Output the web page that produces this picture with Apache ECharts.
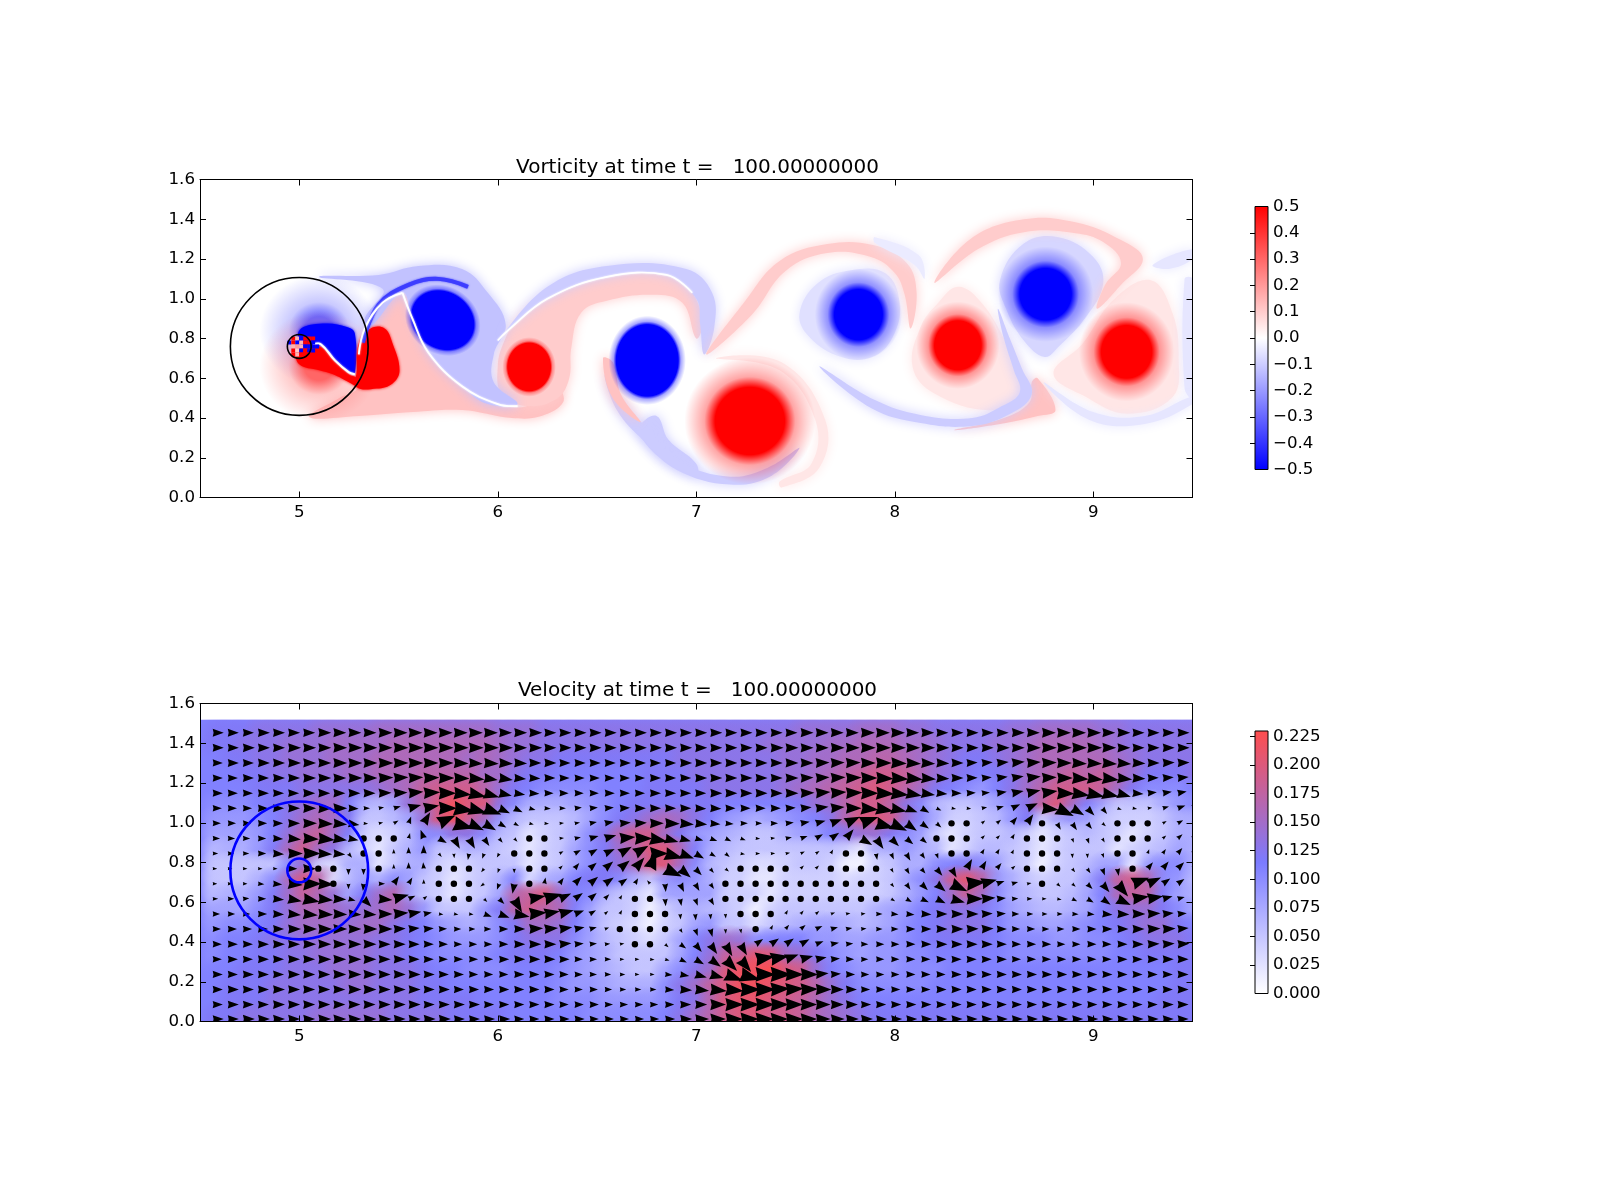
<!DOCTYPE html>
<html>
<head>
<meta charset="utf-8">
<script src="https://cdn.jsdelivr.net/npm/echarts@6/dist/echarts.min.js"></script>
<style>html,body{margin:0;background:#fff}#main{width:1600px;height:1200px}</style>
</head>
<body>
<div id="main"></div>
<script>
var titles = ['Vorticity at time t =   100.00000000', 'Velocity at time t =   100.00000000'];
var xTicks = [5, 6, 7, 8, 9];
var vortLabels = [-0.5, -0.4, -0.3, -0.2, -0.1, 0, 0.1, 0.2, 0.3, 0.4, 0.5];
var vortTicks = [-0.4, -0.3, -0.2, -0.1, 0, 0.1, 0.2, 0.3, 0.4];
var speedLabels = [0, 0.025, 0.05, 0.075, 0.1, 0.125, 0.15, 0.175, 0.2, 0.225];
var speedTicks = [0.025, 0.05, 0.075, 0.1, 0.125, 0.15, 0.175, 0.2, 0.225];
var speedMax = 0.2298;
var dataTop = 1.52;

// cylinder and sponge circle [x, y, r]
var circleX = [5.0, 5.0];
var circleY = [0.76, 0.76];
var circleR = [0.347, 0.06];

// vorticity: soft patches (value + outline)
var paleValues = [0.12, 0.1, -0.12, -0.1, -0.1, -0.06, 0.05, -0.08, 0.05, 0.12, -0.05, 0.1, 0.1, -0.1, -0.1, 0.12, 0.05, -0.05, -0.05, -0.04];
var palePoints = [
  [[5.52,1.03],[5.57,0.9],[5.65,0.73],[5.82,0.56],[6.0,0.47],[6.15,0.46],[6.3,0.55],[6.33,0.48],[6.22,0.41],[6.07,0.4],[5.82,0.44],[5.57,0.43],[5.3,0.41],[5.05,0.405],[5.2,0.5],[5.3,0.56],[5.3,0.78],[5.36,0.87]],
  [[6.0,0.66],[6.03,0.78],[6.1,0.9],[6.25,1.0],[6.55,1.11],[6.85,1.12],[6.98,1.03],[7.03,0.87],[7.0,0.8],[6.93,0.98],[6.78,1.02],[6.55,0.99],[6.42,0.93],[6.37,0.75],[6.36,0.6],[6.3,0.5],[6.15,0.46],[6.02,0.52]],
  [[5.1,1.11],[5.4,1.12],[5.6,1.165],[5.82,1.15],[5.95,1.03],[6.04,0.87],[5.98,0.72],[5.98,0.58],[6.1,0.47],[5.95,0.47],[5.82,0.56],[5.65,0.73],[5.57,0.9],[5.52,1.03],[5.35,0.85],[5.33,0.9],[5.42,1.05]],
  [[6.0,0.79],[6.25,1.06],[6.55,1.165],[6.95,1.15],[7.08,1.03],[7.09,0.85],[7.04,0.72],[7.02,0.87],[7.0,1.0],[6.85,1.12],[6.55,1.11],[6.25,1.0],[6.05,0.84]],
  [[6.71,0.36],[6.8,0.41],[6.86,0.29],[7.0,0.17],[7.0,0.11],[6.83,0.19],[6.71,0.32]],
  [[7.52,0.925],[7.61,1.077],[7.78,1.144],[7.955,1.127],[8.025,0.976],[7.99,0.808],[7.886,0.707],[7.73,0.707],[7.57,0.808]],
  [[8.32,1.06],[8.44,0.976],[8.564,0.775],[8.65,0.607],[8.67,0.506],[8.477,0.439],[8.2,0.523],[8.09,0.657],[8.13,0.858],[8.216,0.976]],
  [[8.53,1.093],[8.65,1.278],[8.825,1.31],[9.0,1.21],[9.05,1.077],[8.964,0.909],[8.825,0.758],[8.755,0.707],[8.65,0.79],[8.564,0.942]],
  [[9.29,1.093],[9.4,0.926],[9.43,0.707],[9.4,0.506],[9.17,0.422],[8.964,0.506],[8.8,0.623],[8.947,0.775],[9.1,0.993]],
  [[8.3,0.34],[8.5,0.365],[8.72,0.41],[8.81,0.44],[8.72,0.6],[8.69,0.58],[8.68,0.48],[8.55,0.4]],
  [[9.46,1.1],[9.5,1.1],[9.5,0.5],[9.46,0.55]],
  [[7.05,0.72],[7.24,0.98],[7.42,1.19],[7.66,1.275],[7.89,1.27],[8.06,1.18],[8.11,1.03],[8.08,0.85],[8.05,1.02],[8.0,1.13],[7.88,1.21],[7.66,1.23],[7.45,1.14],[7.28,0.92]],
  [[8.2,1.08],[8.38,1.3],[8.65,1.4],[8.91,1.385],[9.14,1.295],[9.25,1.2],[9.14,1.07],[9.02,0.95],[9.06,1.07],[9.14,1.18],[9.05,1.285],[8.91,1.33],[8.65,1.335],[8.42,1.25]],
  [[7.62,0.66],[7.88,0.45],[8.13,0.375],[8.39,0.36],[8.58,0.42],[8.69,0.52],[8.64,0.65],[8.58,0.8],[8.52,0.95],[8.55,0.8],[8.6,0.64],[8.63,0.53],[8.54,0.46],[8.39,0.4],[8.13,0.415],[7.9,0.49]],
  [[6.54,0.62],[6.6,0.44],[6.74,0.28],[6.9,0.14],[7.17,0.065],[7.38,0.11],[7.52,0.25],[7.36,0.15],[7.17,0.105],[6.92,0.18],[6.78,0.32],[6.65,0.46]],
  [[6.53,0.7],[6.58,0.5],[6.72,0.38],[6.62,0.52],[6.58,0.68]],
  [[7.1,0.7],[7.43,0.68],[7.65,0.39],[7.62,0.15],[7.43,0.05],[7.42,0.08],[7.58,0.17],[7.6,0.39],[7.42,0.64]],
  [[8.75,0.58],[8.98,0.39],[9.26,0.37],[9.5,0.47],[9.5,0.51],[9.26,0.41],[9.0,0.43]],
  [[9.3,1.17],[9.5,1.25],[9.5,1.2],[9.38,1.15]],
  [[7.9,1.31],[8.12,1.22],[8.15,1.1],[8.1,1.17],[7.9,1.28]]
];

// vorticity: saturated wedge and tail behind the cylinder, first shed vortex
var darkValues = [-0.5, 0.5, 0.5];
var darkPoints = [
  [[5.0,0.84],[5.12,0.875],[5.24,0.858],[5.28,0.825],[5.28,0.624],[5.254,0.632],[5.18,0.69],[5.11,0.766],[5.07,0.73],[5.02,0.75]],
  [[4.99,0.74],[5.1,0.76],[5.18,0.68],[5.25,0.62],[5.29,0.6],[5.3,0.556],[5.25,0.58],[5.17,0.62],[5.1,0.64],[5.0,0.67]],
  [[5.29,0.64],[5.3,0.775],[5.36,0.85],[5.43,0.85],[5.47,0.775],[5.505,0.64],[5.47,0.574],[5.39,0.548],[5.29,0.556]]
];

// vorticity: vortex cores [x, y, rx, ry, rotation deg, value, solid fraction]
var blobX = [5.1, 5.1, 5.723, 6.158, 6.753, 7.27, 7.817, 8.318, 8.76, 9.168];
var blobY = [0.84, 0.66, 0.892, 0.657, 0.69, 0.385, 0.92, 0.766, 1.023, 0.733];
var blobRx = [0.3, 0.3, 0.2, 0.135, 0.195, 0.33, 0.22, 0.21, 0.24, 0.24];
var blobRy = [0.28, 0.28, 0.17, 0.15, 0.225, 0.32, 0.23, 0.22, 0.24, 0.25];
var blobRot = [0, 0, -35, 0, 0, 0, 0, 0, 0, 0];
var blobValue = [-0.3, 0.3, -0.5, 0.5, -0.5, 0.5, -0.5, 0.5, -0.5, 0.5];
var blobSolid = [0.25, 0.25, 0.82, 0.8, 0.8, 0.53, 0.55, 0.56, 0.54, 0.53];

// vorticity: thin sheets [value, width in y units, points]
var sheetValues = [-0.38, 0, 0, 0, 0];
var sheetWidths = [0.02, 0.009, 0.01, 0.009, 0.008];
var sheetPoints = [
  [[5.32,0.78],[5.4,0.97],[5.55,1.07],[5.7,1.1],[5.85,1.06]],
  [[5.3,0.72],[5.33,0.85],[5.42,0.98],[5.52,1.03]],
  [[5.07,0.77],[5.11,0.77],[5.18,0.69],[5.25,0.63],[5.28,0.62]],
  [[5.52,1.03],[5.57,0.9],[5.65,0.73],[5.82,0.56],[6.0,0.47],[6.1,0.46]],
  [[6.0,0.79],[6.05,0.84],[6.25,1.0],[6.55,1.11],[6.85,1.12],[6.98,1.03]]
];

// vorticity: noisy cells inside the cylinder
var cellX = [4.97,4.99,5.01,5.03,5.05,5.07, 4.95,4.97,4.99,5.01,5.03,5.05,5.07, 4.97,4.99,5.01,5.03,5.05,5.07,5.09, 4.97,4.99,5.01,5.03,5.05,5.07, 4.97,4.99,5.01,5.03,5.05];
var cellY = [0.8,0.8,0.8,0.8,0.8,0.8, 0.78,0.78,0.78,0.78,0.78,0.78,0.78, 0.76,0.76,0.76,0.76,0.76,0.76,0.76, 0.74,0.74,0.74,0.74,0.74,0.74, 0.72,0.72,0.72,0.72,0.72];
var cellV = [0.5,0.15,-0.5,0.5,0.5,0.5, -0.5,0.5,-0.5,0.15,0.5,0.5,-0.5, 0.15,0.2,0.15,-0.5,-0.5,-0.5,-0.5, 0.5,0.1,-0.5,0.5,-0.5,-0.5, 0.5,0.15,0.5,0.5,0.5];

// velocity: quiver grid
var gridX = [4.564,4.64,4.716,4.792,4.868,4.944,5.02,5.096,5.172,5.248,5.324,5.4,5.476,5.551,5.627,5.703,5.779,5.855,5.931,6.007,6.083,6.159,6.235,6.311,6.387,6.463,6.539,6.615,6.691,6.767,6.843,6.919,6.995,7.071,7.147,7.223,7.299,7.375,7.45,7.526,7.602,7.678,7.754,7.83,7.906,7.982,8.058,8.134,8.21,8.286,8.362,8.438,8.514,8.59,8.666,8.742,8.818,8.894,8.97,9.046,9.122,9.198,9.274,9.35,9.425,9.501];
var gridY = [1.453,1.377,1.301,1.225,1.149,1.073,0.997,0.921,0.845,0.769,0.693,0.617,0.541,0.465,0.389,0.313,0.237,0.161,0.085,0.012];

// speed per arrow, in 0.01 units (top row first)
var speedRows = [
  [12,12,12,13,13,13,13,14,14,14, 14,15,15,15,15,15,15,15,15,14, 14,14,13,13,13,13,13,13,13,13, 13,13,13,13,13,13,13,13,13,14, 14,14,14,15,15,15,14,14,13,13, 13,13,13,14,14,15,15,15,15,14, 14,13,13,13,13,13],
  [12,12,13,13,13,14,14,14,15,15, 15,15,16,16,16,16,16,16,16,15, 14,14,13,13,13,13,13,13,13,13, 13,13,13,13,13,13,13,14,14,14, 14,15,15,16,16,16,15,15,14,13, 13,13,14,14,15,16,16,16,16,15, 14,13,13,13,13,13],
  [11,12,12,13,13,14,14,14,15,15, 15,16,16,16,16,16,16,15,16,15, 14,13,13,12,12,12,12,12,12,12, 12,13,13,13,13,13,13,13,14,14, 15,15,16,16,17,17,16,15,14,13, 12,12,13,14,15,16,16,16,16,16, 15,14,13,13,13,13],
  [11,11,12,12,13,13,14,14,14,15, 15,16,16,16,17,17,17,17,15,15, 13,12,12,11,11,11,11,11,11,12, 12,12,13,13,13,13,13,13,14,14, 15,16,17,18,19,19,18,16,14,13, 12,11,12,13,15,16,17,18,17,18, 16,14,12,12,12,13],
  [11,11,11,12,12,12,13,13,13,13, 13,14,15,16,18,19,19,19,17,14, 12,11,10,10,10,10,11,11,11,12, 12,12,12,13,13,13,13,13,14,15, 16,17,18,19,20,19,17,15,12,11, 10,9,11,13,15,17,19,19,19,18, 15,12,10,10,10,11],
  [10,10,10,11,12,13,14,15,15,11, 7,6,8,14,17,20,22,20,20,13, 10,7,7,7,8,9,10,11,12,12, 12,12,12,12,11,11,11,11,11,12, 14,15,17,19,19,17,13,10,6,5, 5,6,8,10,13,18,20,15,11,8, 5,5,5,7,9,10],
  [9,9,9,10,11,13,15,16,15,12, 5,5,6,8,14,20,22,18,15,9, 6,5,5,5,6,8,10,12,13,15, 16,15,13,11,9,8,7,8,9,10, 11,13,17,20,20,19,14,10,7,4, 4,5,6,9,12,4,8,9,8,5, 4,4,4,5,7,7],
  [8,8,8,9,11,14,17,18,15,11, 4,3,4,6,10,10,13,13,10,6, 5,2,4,5,7,10,13,17,19,19, 15,12,9,8,7,6,5,5,7,8, 9,11,13,14,14,12,10,8,4,2, 4,5,5,6,4,2,4,5,6,5, 4,2,4,5,7,7],
  [6,7,7,9,12,16,19,15,13,6, 4,2,5,7,9,5,5,7,6,5, 4,2,4,5,8,10,12,15,17,20, 20,16,11,7,6,5,5,5,5,5, 5,5,4,2,7,7,9,7,6,2, 4,6,6,5,4,2,4,5,5,5, 2,4,5,6,8,7],
  [5,5,5,5,5,10,14,4,3,7, 7,2,5,7,7,4,3,4,5,5, 5,2,4,5,8,10,12,14,16,20, 20,15,10,6,5,4,3,3,4,5, 5,4,1,1,4,5,7,7,10,11, 12,10,8,5,4,1,4,5,6,8, 8,2,9,10,10,7],
  [5,5,5,7,10,16,20,17,3,6, 8,7,10,8,5,4,2,4,5,7, 11,3,7,8,11,12,12,10,7,5, 9,10,9,7,4,4,2,2,4,4, 4,4,3,4,4,5,8,10,13,19, 21,17,9,7,5,4,5,5,8,12, 18,19,16,10,9,6],
  [6,7,7,9,12,15,18,16,14,8, 12,15,17,8,5,4,2,4,5,8, 17,18,20,14,11,10,7,5,4,2, 8,8,8,8,4,4,4,2,4,4, 4,4,4,4,4,5,7,9,11,15, 18,15,10,7,6,5,5,6,8,11, 16,18,17,11,8,7],
  [8,8,8,10,12,14,16,16,15,14, 14,15,16,14,9,5,5,5,9,12, 17,19,17,16,11,8,5,5,4,1, 4,6,7,6,5,4,1,4,5,5, 5,5,5,5,7,8,9,11,12,13, 13,12,10,8,7,6,6,7,8,11, 13,14,14,12,10,8],
  [9,10,10,11,12,14,15,15,15,14, 15,15,13,12,11,9,8,7,8,10, 12,15,15,14,11,8,5,4,3,1, 4,5,8,9,5,5,3,5,6,7, 8,8,7,6,7,8,10,11,12,13, 13,13,11,9,9,8,8,9,10,11, 12,13,14,14,12,11],
  [10,11,11,12,13,13,14,14,14,14, 14,13,13,12,11,10,9,9,9,10, 12,13,13,13,10,8,6,5,4,3, 5,8,11,13,15,14,10,11,11,11, 9,9,8,8,9,9,10,11,12,12, 12,12,11,10,10,10,9,9,10,10, 11,12,13,13,13,12],
  [10,11,11,12,12,13,13,14,14,14, 14,13,13,12,11,10,10,10,10,11, 12,12,12,11,9,8,7,5,5,5, 5,8,11,14,18,18,21,20,15,14, 12,10,9,8,9,9,10,10,11,11, 11,11,11,10,10,10,10,10,10,10, 11,11,12,12,12,12],
  [11,11,12,12,12,13,13,13,14,14, 14,13,13,13,12,11,11,10,10,10, 11,11,11,10,9,8,7,6,5,5, 8,10,13,15,20,22,22,23,20,19, 14,11,10,9,9,9,10,10,10,11, 11,11,11,11,11,11,11,11,11,11, 11,11,11,11,12,12],
  [11,12,12,12,13,13,13,13,13,14, 14,13,13,13,12,12,11,11,11,11, 11,11,11,10,9,9,8,7,7,7, 10,13,15,18,20,22,22,21,20,19, 17,14,12,10,10,10,10,10,11,11, 11,11,11,11,11,11,11,11,11,11, 11,11,11,11,12,12],
  [11,12,12,12,13,13,13,13,13,13, 13,13,13,13,12,12,12,12,11,11, 11,11,11,10,10,10,9,9,9,9, 10,12,13,17,20,21,21,20,19,18, 16,14,13,11,11,11,11,11,11,11, 11,11,11,11,11,11,11,11,11,11, 11,11,11,12,12,12],
  [12,12,13,13,13,13,13,14,14,14, 14,14,13,13,13,13,12,12,12,12, 11,11,11,11,11,10,10,10,10,10, 11,13,15,17,19,20,20,19,19,18, 16,15,14,13,12,12,12,12,12,12, 12,12,12,12,12,12,12,12,12,12, 12,12,12,12,12,12]
];

// arrow direction in degrees (top row first)
var flatRow = [0,0,0,0,0,0,0,0,0,0, 0,0,0,0,0,0,0,0,0,0, 0,0,0,0,0,0,0,0,0,0, 0,0,0,0,0,0,0,0,0,0, 0,0,0,0,0,0,0,0,0,0, 0,0,0,0,0,0,0,0,0,0, 0,0,0,0,0,0];
var angleRows = [
  flatRow,
  flatRow,
  [0,0,0,0,0,0,0,0,0,0, 0,0,0,0,0,0,-2,-3,-3,-3, -2,0,0,0,0,0,0,0,0,0, 0,0,0,0,0,0,0,0,0,0, 2,2,2,0,0,-2,-3,-3,-2,0, 2,3,4,5,4,2,0,-3,-3,-4, -4,-3,0,2,2,2],
  [0,0,0,0,0,0,0,0,0,0, 0,2,3,3,2,0,-2,-5,-8,-8, -5,-2,0,0,0,0,0,0,0,0, 0,0,0,0,0,0,0,0,0,2, 3,3,2,0,-2,-4,-5,-5,-3,0, 2,4,7,8,6,3,0,-4,-6,-7, -6,-3,2,4,5,5],
  [0,0,0,0,0,0,0,0,0,0, 0,2,3,5,3,0,-5,-12,-15,-12, -8,-3,0,0,0,0,0,0,0,0, 0,0,0,0,0,0,0,0,0,2, 4,4,2,0,-3,-6,-10,-8,-5,0, 2,5,8,10,12,8,-2,-8,-12,-12, -15,-5,5,8,10,10],
  [0,0,0,0,0,0,0,0,0,-3, 0,10,15,15,10,0,-8,-15,-20,-25, -25,-15,-5,0,5,5,5,3,0,0, 0,0,-3,-3,0,0,0,0,3,5, 7,5,0,-5,-10,-12,-20,-30,-25,-10, -5,10,15,25,25,-5,-25,-30,-45,-50, -20,-10,5,15,20,25],
  [0,0,0,0,0,0,0,-3,-5,-8, -5,10,30,70,60,25,-15,-25,-30,-30, -30,-15,-5,5,10,10,10,5,3,0, -2,-5,-5,-5,-5,0,0,0,5,10, 15,20,25,20,-15,-25,-35,-35,-40,0, 0,40,40,50,55,0,-60,-55,-50,-40, 0,0,0,30,30,25],
  [0,0,0,0,-3,-5,-3,-5,-8,-10, 0,0,0,75,110,-30,-60,-60,-55,-50, -45,0,0,5,10,15,15,5,0,-10, -15,-15,-15,-20,-25,-20,-5,5,10,20, 30,35,50,-30,-55,-45,-40,-40,0,0, 0,45,45,60,0,0,0,-70,-70,-60, 0,0,0,40,40,45],
  [0,0,0,0,-3,0,0,-3,-5,-50, 0,0,90,90,90,-50,-85,-100,-110,-120, 0,0,0,30,30,30,25,30,30,0, -15,-20,-30,-30,-40,-10,0,5,10,25, 35,60,0,0,-80,-65,-60,-55,-70,0, 0,60,60,65,0,0,0,-85,-85,-70, 0,0,70,55,50,40],
  [0,0,0,0,0,0,0,0,0,-90, -90,0,90,90,95,0,0,0,-130,-110, -90,0,0,45,50,40,40,40,50,70, -25,-40,-45,-50,-40,0,0,0,0,45, 45,0,0,0,0,-60,-60,-50,-50,-60, 60,60,50,40,0,0,0,-50,-55,-70, -80,0,50,50,45,30],
  [0,0,0,-5,-5,-5,0,-3,0,-90, -95,0,55,60,90,0,0,0,-145,-110, -100,0,80,55,45,40,35,35,60,130, -85,-65,-60,-55,0,0,0,0,0,0, 0,0,0,0,0,-50,-55,-45,-40,-25, 5,15,20,15,10,0,-40,-40,-45,-50, -50,20,25,35,35,25],
  [0,0,5,0,-5,-10,-10,-5,-3,-15, -45,-5,15,25,40,0,0,0,-45,-45, -60,10,15,25,35,40,45,60,0,0, -85,-80,-70,-60,0,0,0,0,0,0, 0,0,0,0,0,-30,-30,-25,-25,-15, 0,5,5,3,0,0,-10,-25,-30,-35, -25,8,10,15,15,15],
  [0,0,0,0,-3,-5,-5,-3,-2,-3, -3,0,5,10,10,-5,-10,-5,-20,-20, -10,5,10,15,20,30,40,60,0,0, 0,-85,-85,-85,-85,0,0,0,60,50, 40,20,10,5,0,-5,-5,-3,0,0, 0,3,3,0,0,0,0,-3,-5,-5, -3,0,3,5,5,5],
  [0,0,0,0,0,0,0,0,0,0, 0,0,3,5,5,3,0,0,0,0, 0,3,5,8,10,15,20,0,0,0, 0,-60,-70,-75,-85,-80,0,60,50,40, 25,15,10,5,0,0,0,0,0,0, 2,3,0,0,0,0,0,0,0,0, 0,0,3,3,5,5],
  [0,0,0,0,0,0,0,0,0,0, 0,0,0,0,0,0,0,0,0,0, 0,0,0,5,5,5,5,10,0,0, -40,-35,-50,-55,-60,-60,35,35,35,30, 20,10,5,0,0,0,0,0,0,0, 0,0,0,0,0,0,0,0,0,0, 0,0,2,3,3,3],
  [0,0,0,0,0,0,0,0,0,0, 0,0,0,0,0,0,0,0,0,0, 0,0,0,0,0,0,0,0,0,-5, -15,-25,-30,-35,-45,-50,8,10,20,15, 10,5,0,0,0,0,0,0,0,0, 0,0,0,0,0,0,0,0,0,0, 0,0,0,0,0,0],
  [0,0,0,0,0,0,0,0,0,0, 0,0,0,0,0,0,0,0,0,0, 0,0,0,0,0,0,0,0,0,0, -5,-10,-15,-15,-20,-15,0,0,0,0, 5,3,0,0,0,0,0,0,0,0, 0,0,0,0,0,0,0,0,0,0, 0,0,0,0,0,0],
  [0,0,0,0,0,0,0,0,0,0, 0,0,0,0,0,0,0,0,0,0, 0,0,0,0,0,0,0,0,0,0, -3,-3,-5,-5,-5,0,0,3,3,2, 0,0,0,0,0,0,0,0,0,0, 0,0,0,0,0,0,0,0,0,0, 0,0,0,0,0,0],
  flatRow,
  flatRow
];

var FONT = 'DejaVu Sans';

function bwr(v, a) {
  var t = Math.min(Math.abs(v) / 0.5, 1), c = Math.round(255 * (1 - t));
  return v >= 0 ? 'rgba(255,' + c + ',' + c + ',' + a + ')' : 'rgba(' + c + ',' + c + ',255,' + a + ')';
}
function speedColor(s, a) {
  var m = speedMax / 2, t, r, g, b;
  if (s <= m) {
    t = s / m; r = 255 - 132 * t; g = 255 - 132 * t; b = 255;
  } else {
    t = Math.min((s - m) / m, 1); r = 123 + 132 * t; g = 123 - 46 * t; b = 255 - 178 * t;
  }
  return 'rgba(' + Math.round(r) + ',' + Math.round(g) + ',' + Math.round(b) + ',' + a + ')';
}

var quiverData = [];
speedRows.forEach(function (row, j) {
  row.forEach(function (s, i) {
    quiverData.push([gridX[i], gridY[j], s / 100, angleRows[j][i]]);
  });
});

function indexData(list) {
  return list.map(function (v, i) { return [i]; });
}
function toPixels(api, pts) {
  return pts.map(function (p) { return api.coord(p); });
}

function patchSeries(values, points, blur, z) {
  return {
    type: 'custom', xAxisIndex: 0, yAxisIndex: 0, clip: true, z: z, silent: true,
    data: indexData(values),
    renderItem: function (params, api) {
      var i = api.value(0), c = bwr(values[i], 1);
      return {
        type: 'polygon',
        shape: { points: toPixels(api, points[i]), smooth: 0.4 },
        style: { fill: c, shadowBlur: blur, shadowColor: c }
      };
    }
  };
}

function circleSeries(xi, yi, color, width, z) {
  return {
    type: 'custom', xAxisIndex: xi, yAxisIndex: yi, clip: true, z: z, silent: true,
    data: indexData(circleR),
    renderItem: function (params, api) {
      var i = api.value(0), c = api.coord([circleX[i], circleY[i]]);
      return {
        type: 'circle',
        shape: { cx: c[0], cy: c[1], r: api.size([circleR[i], 0])[0] },
        style: { fill: 'none', stroke: color, lineWidth: width }
      };
    }
  };
}

function colorbarSeries(xi, yi, lo, hi, stops) {
  return {
    type: 'custom', xAxisIndex: xi, yAxisIndex: yi, z: 5, silent: true,
    data: [[0]],
    renderItem: function (params, api) {
      var a = api.coord([0, hi]), b = api.coord([1, lo]);
      return {
        type: 'rect',
        shape: { x: a[0], y: a[1], width: b[0] - a[0], height: b[1] - a[1] },
        style: { fill: new echarts.graphic.LinearGradient(0, 1, 0, 0, stops), stroke: '#000', lineWidth: 1 }
      };
    }
  };
}

var series = [
  // top panel
  patchSeries(paleValues, palePoints, 12, 2),
  {
    type: 'custom', xAxisIndex: 0, yAxisIndex: 0, clip: true, z: 3, silent: true,
    data: indexData(blobX),
    renderItem: function (params, api) {
      var i = api.value(0), c = api.coord([blobX[i], blobY[i]]);
      var rx = api.size([blobRx[i], 0])[0], ry = api.size([0, blobRy[i]])[1];
      var v = blobValue[i], s = blobSolid[i];
      return {
        type: 'circle', x: c[0], y: c[1], scaleX: rx / ry, scaleY: 1,
        rotation: blobRot[i] * Math.PI / 180,
        shape: { cx: 0, cy: 0, r: ry },
        style: {
          fill: new echarts.graphic.RadialGradient(0.5, 0.5, 0.5, [
            { offset: 0, color: bwr(v, 1) },
            { offset: s, color: bwr(v, 1) },
            { offset: s + 0.35 * (1 - s), color: bwr(v, 0.35) },
            { offset: 1, color: bwr(v, 0) }
          ])
        }
      };
    }
  },
  patchSeries(darkValues, darkPoints, 3, 4),
  {
    type: 'custom', xAxisIndex: 0, yAxisIndex: 0, clip: true, z: 5, silent: true,
    data: indexData(sheetValues),
    renderItem: function (params, api) {
      var i = api.value(0), c = bwr(sheetValues[i], 1);
      return {
        type: 'polyline',
        shape: { points: toPixels(api, sheetPoints[i]), smooth: 0.4 },
        style: {
          fill: 'none', stroke: c,
          lineWidth: api.size([0, sheetWidths[i]])[1], shadowBlur: 2, shadowColor: c
        }
      };
    }
  },
  {
    type: 'custom', xAxisIndex: 0, yAxisIndex: 0, clip: true, z: 6, silent: true,
    data: cellX.map(function (x, i) { return [x, cellY[i], cellV[i]]; }),
    encode: { x: 0, y: 1 },
    renderItem: function (params, api) {
      var c = api.coord([api.value(0), api.value(1)]), s = api.size([0.02, 0.02]);
      return {
        type: 'rect',
        shape: { x: c[0] - s[0] / 2, y: c[1] - s[1] / 2, width: s[0], height: s[1] },
        style: { fill: bwr(api.value(2), 1) }
      };
    }
  },
  circleSeries(0, 0, '#000', 1.6, 7),

  // bottom panel: speed background
  {
    type: 'custom', xAxisIndex: 2, yAxisIndex: 2, clip: true, z: 2, silent: true,
    data: [[0.11]],
    renderItem: function (params, api) {
      var a = api.coord([4.5, dataTop]), b = api.coord([9.5, 0]);
      return {
        type: 'rect',
        shape: { x: a[0], y: a[1], width: b[0] - a[0], height: b[1] - a[1] },
        style: { fill: speedColor(api.value(0), 1) }
      };
    }
  },
  {
    type: 'custom', xAxisIndex: 2, yAxisIndex: 2, clip: true, z: 3, silent: true,
    data: quiverData, encode: { x: 0, y: 1 },
    renderItem: function (params, api) {
      var c = api.coord([api.value(0), api.value(1)]), s = api.value(2);
      return {
        type: 'circle',
        shape: { cx: c[0] + 4, cy: c[1], r: api.size([0.1, 0])[0] },
        style: {
          fill: new echarts.graphic.RadialGradient(0.5, 0.5, 0.5, [
            { offset: 0, color: speedColor(s, 1) },
            { offset: 0.4, color: speedColor(s, 0.8) },
            { offset: 1, color: speedColor(s, 0) }
          ])
        }
      };
    }
  },
  {
    type: 'custom', xAxisIndex: 2, yAxisIndex: 2, clip: true, z: 4, silent: true,
    data: [[dataTop, 1.6]],
    renderItem: function (params, api) {
      var a = api.coord([4.5, api.value(1)]), b = api.coord([9.5, api.value(0)]);
      return {
        type: 'rect',
        shape: { x: a[0], y: a[1], width: b[0] - a[0], height: b[1] - a[1] },
        style: { fill: '#fff' }
      };
    }
  },
  // arrows
  {
    type: 'custom', xAxisIndex: 2, yAxisIndex: 2, clip: true, z: 5, silent: true,
    data: quiverData, encode: { x: 0, y: 1 },
    renderItem: function (params, api) {
      var c = api.coord([api.value(0), api.value(1)]), s = api.value(2);
      if (s <= 0.04) {
        return { type: 'circle', shape: { cx: c[0], cy: c[1], r: 3.2 }, style: { fill: '#000' } };
      }
      var a = api.value(3) * Math.PI / 180, L = 92 * s, w = 0.36 * L;
      var dx = Math.cos(a), dy = -Math.sin(a);
      return {
        type: 'polygon',
        shape: { points: [
          [c[0] + dx * L, c[1] + dy * L],
          [c[0] - dy * w, c[1] + dx * w],
          [c[0] + dx * 0.08 * L, c[1] + dy * 0.08 * L],
          [c[0] + dy * w, c[1] - dx * w]
        ] },
        style: { fill: '#000' }
      };
    }
  },
  circleSeries(2, 2, '#0000ff', 2.6, 6),

  // colour bars
  colorbarSeries(4, 4, -0.5, 0.5, [
    { offset: 0, color: '#0000ff' }, { offset: 0.5, color: '#ffffff' }, { offset: 1, color: '#ff0000' }
  ]),
  colorbarSeries(5, 5, 0, speedMax, [
    { offset: 0, color: '#ffffff' }, { offset: 0.5, color: '#7b7bff' }, { offset: 1, color: '#ff4d4d' }
  ])
];

function xAxisFor(gi, pos, labels) {
  return {
    type: 'value', gridIndex: gi, position: pos, min: 4.5, max: 9.5, z: 10, silent: true,
    axisLine: { show: true, onZero: false, lineStyle: { color: '#000', width: 1 } },
    axisTick: { show: true, inside: true, length: 6, customValues: xTicks, lineStyle: { color: '#000' } },
    axisLabel: { show: labels, customValues: xTicks, color: '#000', fontSize: 16.67, fontFamily: FONT, margin: 7 },
    splitLine: { show: false }
  };
}
function yAxisFor(gi, pos, labels) {
  return {
    type: 'value', gridIndex: gi, position: pos, min: 0, max: 1.6, interval: 0.2, z: 10, silent: true,
    axisLine: { show: true, onZero: false, lineStyle: { color: '#000', width: 1 } },
    axisTick: { show: true, inside: true, length: 6, lineStyle: { color: '#000' } },
    axisLabel: {
      show: labels, color: '#000', fontSize: 16.67, fontFamily: FONT, margin: 5,
      formatter: function (v) { return v.toFixed(1); }
    },
    splitLine: { show: false }
  };
}
function barXAxis(gi) {
  return { type: 'value', gridIndex: gi, min: 0, max: 1, show: false };
}
function barYAxis(gi, lo, hi, labels, ticks, digits) {
  return {
    type: 'value', gridIndex: gi, position: 'right', min: lo, max: hi, z: 10, silent: true,
    axisLine: { show: false },
    axisTick: { show: true, inside: true, length: 5, customValues: ticks, lineStyle: { color: '#000' } },
    axisLabel: {
      customValues: labels, color: '#000', fontSize: 16.67, fontFamily: FONT, margin: 5,
      formatter: function (v) { return v.toFixed(digits).replace('-', '\u2212'); }
    },
    splitLine: { show: false }
  };
}

echarts.init(document.getElementById('main'), null, { renderer: 'canvas' }).setOption({
  animation: false,
  backgroundColor: '#fff',
  title: [
    { text: titles[0], left: 692.5, top: 153, textAlign: 'center', textStyle: { fontFamily: FONT, fontWeight: 'normal', fontSize: 20, color: '#000' } },
    { text: titles[1], left: 692.5, top: 676, textAlign: 'center', textStyle: { fontFamily: FONT, fontWeight: 'normal', fontSize: 20, color: '#000' } }
  ],
  grid: [
    { left: 200, top: 179.5, width: 992.5, height: 318 },
    { left: 200, top: 703.5, width: 992.5, height: 318 },
    { left: 1255, top: 206.5, width: 13, height: 263 },
    { left: 1255, top: 731, width: 13, height: 262.5 }
  ],
  xAxis: [
    xAxisFor(0, 'bottom', true), xAxisFor(0, 'top', false),
    xAxisFor(1, 'bottom', true), xAxisFor(1, 'top', false),
    barXAxis(2), barXAxis(3)
  ],
  yAxis: [
    yAxisFor(0, 'left', true), yAxisFor(0, 'right', false),
    yAxisFor(1, 'left', true), yAxisFor(1, 'right', false),
    barYAxis(2, -0.5, 0.5, vortLabels, vortTicks, 1), barYAxis(3, 0, speedMax, speedLabels, speedTicks, 3)
  ],
  series: series
});
</script>
</body>
</html>
